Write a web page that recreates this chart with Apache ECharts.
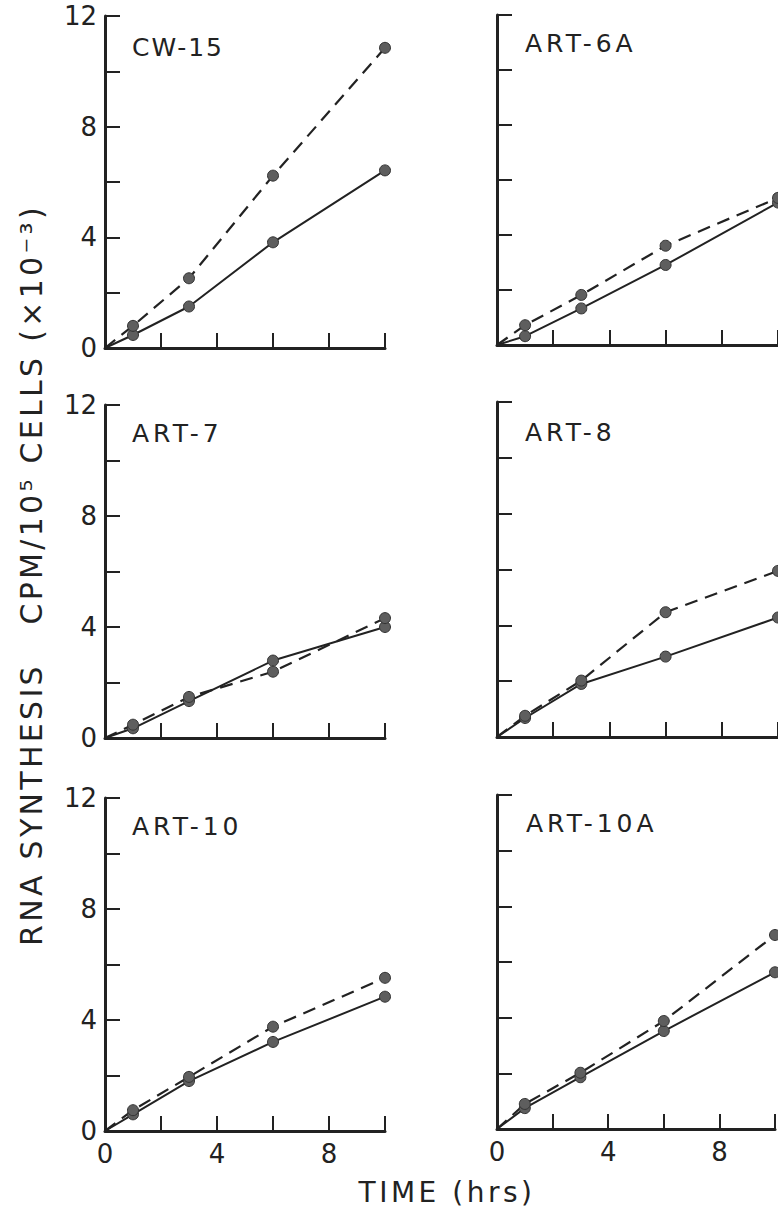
<!DOCTYPE html>
<html>
<head>
<meta charset="utf-8">
<script src="https://cdn.jsdelivr.net/npm/echarts@6/dist/echarts.min.js"></script>
<style>
  html, body { margin: 0; padding: 0; background: #fff; }
  #main { width: 778px; height: 1213px; }
</style>
</head>
<body>
<div id="main"></div>
<script>
// ---- data ----
const times = [0, 1, 3, 6, 10];
const panelNames = ['CW-15', 'ART-6A', 'ART-7', 'ART-8', 'ART-10', 'ART-10A'];
const cw15Solid    = [0, 0.47, 1.50, 3.82, 6.42];
const cw15Dashed   = [0, 0.80, 2.52, 6.23, 10.85];
const art6aSolid   = [0, 0.32, 1.33, 2.91, 5.18];
const art6aDashed  = [0, 0.72, 1.82, 3.61, 5.35];
const art7Solid    = [0, 0.35, 1.33, 2.79, 4.00];
const art7Dashed   = [0, 0.48, 1.48, 2.39, 4.32];
const art8Solid    = [0, 0.68, 1.90, 2.88, 4.28];
const art8Dashed   = [0, 0.76, 2.02, 4.47, 5.95];
const art10Solid   = [0, 0.60, 1.80, 3.21, 4.84];
const art10Dashed  = [0, 0.75, 1.95, 3.76, 5.52];
const art10aSolid  = [0, 0.75, 1.86, 3.52, 5.63];
const art10aDashed = [0, 0.90, 2.02, 3.88, 6.97];
const yLabelValues = [0, 4, 8, 12];
const xLabelValues = [0, 4, 8];
const yTitle = 'RNA SYNTHESIS   CPM/10\u2075 CELLS (\u00D710\u207B\u00B3)';
const xTitle = 'TIME (hrs)';

const solidSets  = [cw15Solid, art6aSolid, art7Solid, art8Solid, art10Solid, art10aSolid];
const dashedSets = [cw15Dashed, art6aDashed, art7Dashed, art8Dashed, art10Dashed, art10aDashed];

// ---- layout ----
const grids = [
  { left: 105, top: 16,  width: 280, height: 332 },
  { left: 497, top: 15,  width: 281, height: 330 },
  { left: 105, top: 405, width: 280, height: 333 },
  { left: 497, top: 402, width: 281, height: 335 },
  { left: 105, top: 798, width: 280, height: 333 },
  { left: 497, top: 795, width: 281, height: 334 }
];
const labelPos = [[132, 47], [525, 43], [132, 433], [525, 432], [132, 826], [526, 823]];

const INK = '#222';
const FONT = 'DejaVu Sans';

function pairs(ys) { return times.map((t, i) => [t, ys[i]]); }

const xAxes = [], yAxes = [], series = [], graphics = [];
grids.forEach((g, i) => {
  const leftCol = i % 2 === 0;
  const bottomRow = i >= 4;
  xAxes.push({
    type: 'value', gridIndex: i, min: 0, max: 10, interval: 2,
    axisLine: { show: true, onZero: false, lineStyle: { color: INK, width: 3 } },
    axisTick: { show: true, inside: true, length: 15, lineStyle: { color: INK, width: 2 } },
    splitLine: { show: false },
    axisLabel: {
      show: bottomRow, margin: 10, color: INK, fontFamily: FONT, fontSize: 26,
      formatter: v => (xLabelValues.indexOf(v) >= 0 ? String(v) : '')
    }
  });
  yAxes.push({
    type: 'value', gridIndex: i, min: 0, max: 12, interval: 2,
    axisLine: { show: true, onZero: false, lineStyle: { color: INK, width: 3 } },
    axisTick: { show: true, inside: true, length: 15, lineStyle: { color: INK, width: 2 } },
    splitLine: { show: false },
    axisLabel: {
      show: leftCol, margin: 8, color: INK, fontFamily: FONT, fontSize: 26,
      formatter: v => (yLabelValues.indexOf(v) >= 0 ? String(v) : '')
    }
  });
  const common = {
    type: 'line', xAxisIndex: i, yAxisIndex: i, clip: false,
    symbol: 'circle',
    symbolSize: v => (v[0] === 0 ? 0 : 11),
    itemStyle: { color: '#5e5e5e', borderColor: '#333', borderWidth: 1 },
    z: 3
  };
  series.push(Object.assign({}, common, {
    name: panelNames[i] + ' solid',
    data: pairs(solidSets[i]),
    lineStyle: { color: INK, width: 2, type: 'solid' }
  }));
  series.push(Object.assign({}, common, {
    name: panelNames[i] + ' dashed',
    data: pairs(dashedSets[i]),
    lineStyle: { color: INK, width: 2.2, type: [13, 8] }
  }));
  graphics.push({
    type: 'text', x: labelPos[i][0], y: labelPos[i][1],
    style: { text: panelNames[i], fill: INK, font: '25px "' + FONT + '"', textAlign: 'left', textVerticalAlign: 'middle' }
  });
});

graphics.push({
  type: 'text', x: 31, y: 575, rotation: Math.PI / 2,
  style: { text: yTitle, fill: INK, font: '30px "' + FONT + '"', textAlign: 'center', textVerticalAlign: 'middle' }
});
graphics.push({
  type: 'text', x: 447, y: 1192,
  style: { text: xTitle, fill: INK, font: '28px "' + FONT + '"', textAlign: 'center', textVerticalAlign: 'middle' }
});

const chart = echarts.init(document.getElementById('main'), null, { renderer: 'svg', width: 778, height: 1213 });
chart.setOption({
  animation: false,
  backgroundColor: '#fff',
  grid: grids.map(g => Object.assign({ containLabel: false }, g)),
  xAxis: xAxes,
  yAxis: yAxes,
  series: series,
  graphic: graphics
});

function spaceLetters() {
  document.querySelectorAll('#main text').forEach(t => {
    const s = t.textContent || '';
    let sp = null;
    if (s.indexOf('CW') === 0) sp = '2px';
    else if (s.indexOf('ART') === 0) sp = '4px';
    else if (s.indexOf('RNA') === 0) sp = '3.3px';
    else if (s.indexOf('TIME') === 0) sp = '3.5px';
    if (sp) t.style.letterSpacing = sp;
  });
}
spaceLetters();
chart.on('finished', spaceLetters);
setTimeout(spaceLetters, 50);
</script>
</body>
</html>
